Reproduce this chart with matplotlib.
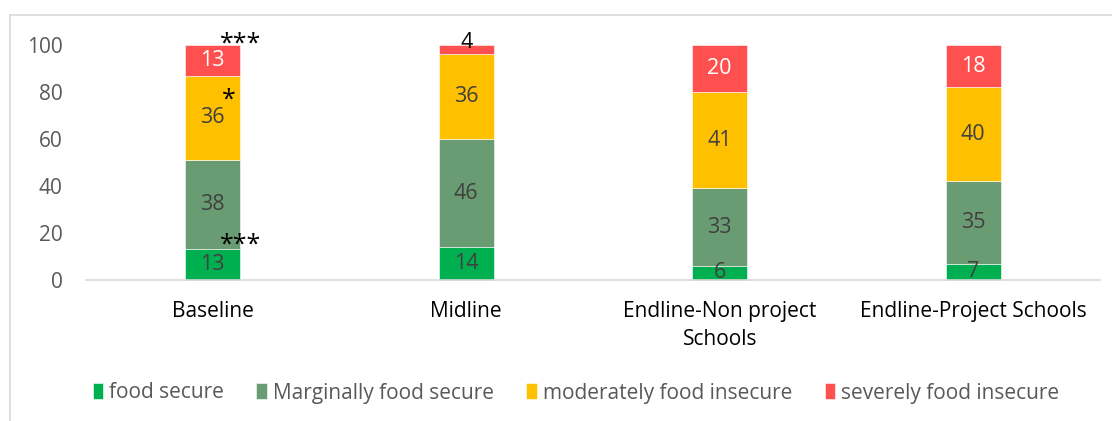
import numpy as np
import matplotlib
matplotlib.use('Agg')
import matplotlib.pyplot as plt
from matplotlib.lines import Line2D

categories = ['Baseline', 'Midline', 'Endline-Non project\nSchools', 'Endline-Project Schools']
series_names = ['food secure', 'Marginally food secure', 'moderately food insecure', 'severely food insecure']
food_secure = [13, 14, 6, 7]
marginal = [38, 46, 33, 35]
moderate = [36, 36, 41, 40]
severe = [13, 4, 20, 18]

colors = ['#00B050', '#6A9C73', '#FFC000', '#FF5050']
label_colors = ['#404040', '#404040', '#404040', 'white']

plt.rcParams['font.family'] = ['Open Sans', 'DejaVu Sans']

fig = plt.figure(figsize=(11.12, 4.21), dpi=100)
ax = fig.add_axes([86 / 1112, 1 - 280 / 421, (1100 - 86) / 1112, 235 / 421])

x = np.arange(len(categories))
width = 0.217
bottom = np.zeros(len(categories))
for i, vals in enumerate([food_secure, marginal, moderate, severe]):
    vals = np.array(vals, dtype=float)
    ax.bar(x, vals, width, bottom=bottom, color=colors[i], label=series_names[i],
           edgecolor='white', linewidth=0.4, zorder=2, clip_on=False)
    for j, v in enumerate(vals):
        c = label_colors[i]
        ypos = bottom[j] + v / 2
        if i == 3 and v < 8:
            # thin top segment: label sits slightly above the centre, in black
            c = 'black'
            ypos += 3
        ax.text(x[j], ypos, f'{int(v)}', ha='center', va='center',
                fontsize=15.5, color=c, zorder=3)
    bottom += vals

# significance markers on the baseline bar
ax.text(0.11, 100.5, '***', ha='center', va='center', fontsize=18, color='black')
ax.text(0.065, 76.5, '*', ha='center', va='center', fontsize=18, color='black')
ax.text(0.11, 15, '***', ha='center', va='center', fontsize=18, color='black')

ax.set_xlim(-0.5, 3.5)
ax.set_ylim(0, 100)
ax.set_yticks([0, 20, 40, 60, 80, 100])
ax.set_xticks(x)
ax.set_xticklabels(categories, fontsize=15, color='black', linespacing=1.45)
ax.tick_params(axis='y', length=0, labelsize=15, labelcolor='#595959', pad=17)
ax.tick_params(axis='x', length=0, pad=15)
for s in ['left', 'right', 'top']:
    ax.spines[s].set_visible(False)
ax.spines['bottom'].set_color('#D9D9D9')
ax.spines['bottom'].set_linewidth(1.2)

handles, labels = ax.get_legend_handles_labels()
leg = fig.legend(handles, labels, loc='center', bbox_to_anchor=(576 / 1112, 1 - 393 / 421),
                 ncol=4, frameon=False, fontsize=15, handlelength=0.5, handleheight=0.8,
                 handletextpad=0.3, columnspacing=1.55)
for t in leg.get_texts():
    t.set_color('#595959')

# chart frame
fig.add_artist(Line2D([10 / 1112, 10 / 1112], [0, 1 - 15 / 421], color='#D9D9D9', lw=1.2))
fig.add_artist(Line2D([10 / 1112, 1], [1 - 15 / 421, 1 - 15 / 421], color='#D9D9D9', lw=1.2))

fig.savefig('out.png', dpi=100)
